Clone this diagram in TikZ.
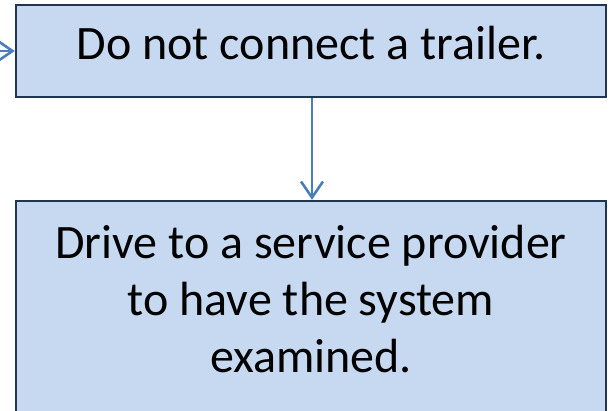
\documentclass[tikz,border=0pt]{standalone}
\usepackage{fontspec}
\setmainfont{Carlito}
\usetikzlibrary{arrows.meta}
\definecolor{boxfill}{HTML}{C6D9F1}
\definecolor{boxline}{HTML}{1F3550}
\definecolor{arrowc}{HTML}{4A7EBB}
\tikzset{
  flowbox/.style={draw=boxline, line width=2.4pt, fill=boxfill, inner sep=0pt},
  flowtext/.style={inner sep=0pt, align=center, font=\fontsize{48}{57}\selectfont},
  conn/.style={draw=arrowc, line width=2.6pt, -{Straight Barb[length=16pt,width=22pt,line width=2.6pt]}}
}
\begin{document}
\begin{tikzpicture}[x=1pt,y=-1pt]
\useasboundingbox (0,0) rectangle (610,411);
\clip (0,0) rectangle (610,411);
\node[flowbox, minimum width=590pt, minimum height=92pt] (top) at (311,51) {};
\node[flowbox, minimum width=590pt, minimum height=290pt] (bot) at (311,346) {};
\node[flowtext, anchor=base] (toptext) at (311,60) {Do not connect a trailer.};
\node[flowtext, anchor=base] (bottext) at (311,372) {Drive to a service provider\\to have the system\\examined.};
\coordinate (in) at (-30,51);
\draw[conn] (in) -- (top.west);
\draw[conn] (top.south -| 312,0) -- (bot.north -| 312,0);
\end{tikzpicture}
\end{document}
